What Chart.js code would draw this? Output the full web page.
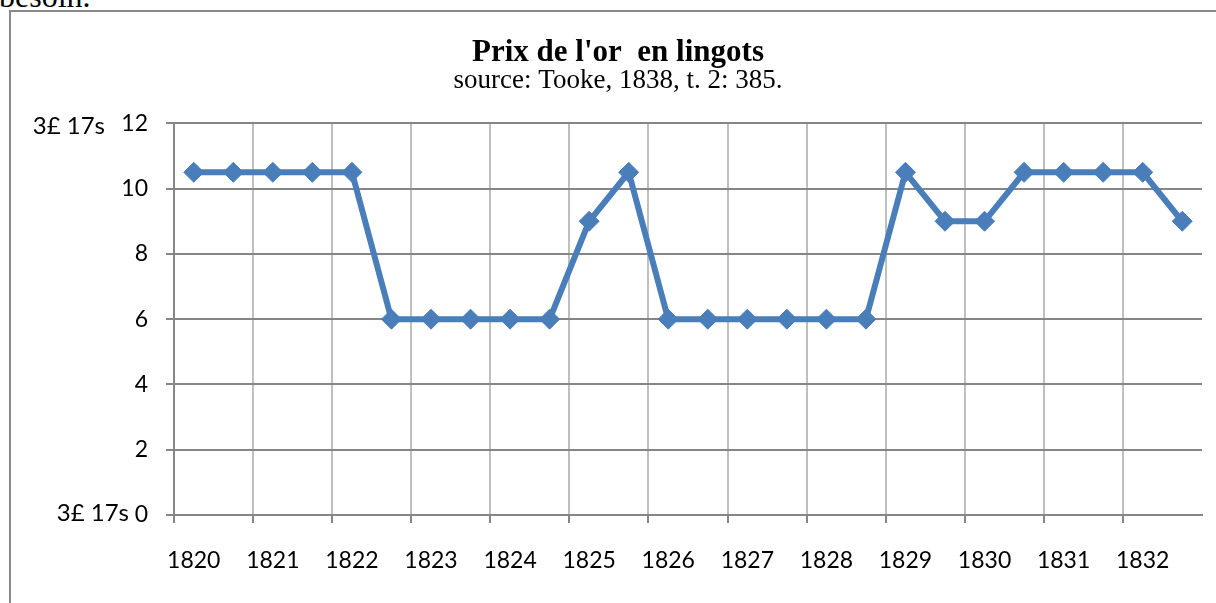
<!DOCTYPE html>
<html>
<head>
<meta charset="utf-8">
<script src="https://cdn.jsdelivr.net/npm/chart.js@4/dist/chart.umd.min.js"></script>
<style>
  html, body { margin: 0; padding: 0; background: #fff; overflow: hidden; }
  body { width: 1216px; height: 603px; position: relative; }
  #prev { position: absolute; left: -1px; top: -20px; font: 32px/32px "Liberation Serif", serif; color: #000; }
  #frame { position: absolute; left: 9px; top: 10px; width: 1240px; height: 640px; border: 2px solid #898989; box-sizing: border-box; }
  #c { position: absolute; left: 0; top: 0; }
</style>
</head>
<body>
<div id="prev">besoin.</div>
<div id="frame"></div>
<canvas id="c" width="1216" height="603"></canvas>
<script>
// ---- data ----
const years = ['1820','1821','1822','1823','1824','1825','1826','1827','1828','1829','1830','1831','1832'];
const values = [10.5, 10.5, 10.5, 10.5, 10.5, 6, 6, 6, 6, 6, 9, 10.5, 6, 6, 6, 6, 6, 6, 10.5, 9, 9, 10.5, 10.5, 10.5, 10.5, 9];
const yTicks = [0, 2, 4, 6, 8, 10, 12];
const yExtraLabels = ['3£ 17s', '3£ 17s']; // beside 12 and 0
const titleText = "Prix de l'or  en lingots";
const subtitleText = 'source: Tooke, 1838, t. 2: 385.';

const labels = values.map((_, i) => (i % 2 === 0 ? years[i / 2] : ''));

const extraLabelPlugin = {
  id: 'extraLabels',
  afterDraw(chart) {
    const y = chart.scales.y;
    const ctx = chart.ctx;
    ctx.save();
    ctx.fillStyle = '#000';
    ctx.font = '24px Lato';
    ctx.textAlign = 'right';
    ctx.textBaseline = 'middle';
    ctx.fillText(yExtraLabels[0], 105, y.getPixelForValue(yTicks[yTicks.length - 1]) + 3);
    ctx.fillText(yExtraLabels[1], 129, y.getPixelForValue(yTicks[0]) - 2);
    ctx.restore();
  }
};

new Chart(document.getElementById('c'), {
  type: 'line',
  data: {
    labels: labels,
    datasets: [{
      data: values,
      borderColor: '#4a7ebb',
      backgroundColor: '#4a7ebb',
      borderWidth: 6,
      pointStyle: 'rectRot',
      pointRadius: 10,
      pointBorderWidth: 1,
      pointBackgroundColor: '#4a7ebb',
      pointBorderColor: '#4a7ebb',
      tension: 0,
      fill: false
    }]
  },
  options: {
    responsive: false,
    animation: false,
    devicePixelRatio: 1,
    layout: { padding: { left: 34, right: 14, top: 0, bottom: 0 } },
    plugins: {
      legend: { display: false },
      tooltip: { enabled: false },
      title: {
        display: true,
        text: titleText,
        color: '#000',
        font: { family: 'Liberation Serif', size: 31, weight: 'bold', lineHeight: 0.85 },
        padding: { top: 40, bottom: 0 }
      },
      subtitle: {
        display: true,
        text: subtitleText,
        color: '#000',
        font: { family: 'Liberation Serif', size: 27, lineHeight: 1 },
        padding: { top: 1, bottom: 29 }
      }
    },
    scales: {
      x: {
        type: 'category',
        offset: true,
        afterFit(scale) { scale.height = 88; },
        grid: {
          offset: true,
          color: (c) => (c.index % 2 === 0 ? '#bfbfbf' : 'rgba(0,0,0,0)'),
          tickColor: (c) => (c.index % 2 === 0 ? '#868686' : 'rgba(0,0,0,0)'),
          lineWidth: 2,
          tickLength: 8,
          drawTicks: true
        },
        border: { color: '#868686', width: 2 },
        ticks: {
          autoSkip: false,
          maxRotation: 0,
          color: '#000',
          font: { family: 'Lato', size: 23 },
          padding: 24
        }
      },
      y: {
        min: 0,
        max: 12,
        afterFit(scale) { scale.width = 140; },
        afterBuildTicks(scale) { scale.ticks = yTicks.map(v => ({ value: v })); },
        grid: { color: '#868686', lineWidth: 2, tickLength: 8 },
        border: { color: '#868686', width: 2 },
        ticks: {
          color: '#000',
          font: { family: 'Lato', size: 23 },
          padding: 18
        }
      }
    }
  },
  plugins: [extraLabelPlugin]
});
</script>
</body>
</html>
